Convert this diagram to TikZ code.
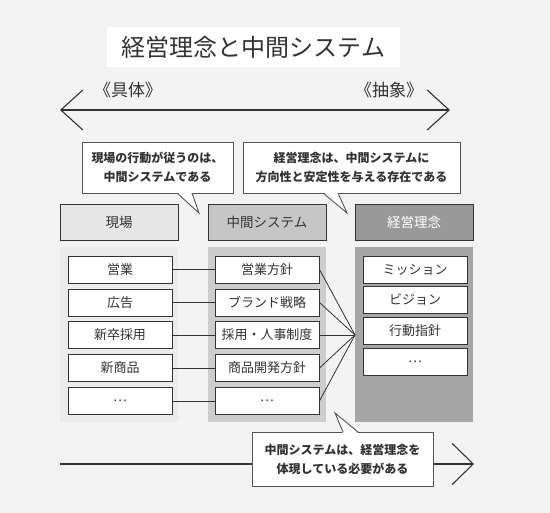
\documentclass[tikz,border=0pt]{standalone}
\usepackage{fontspec}
\setmainfont{Noto Sans CJK JP}
\usepackage{tikz}
\usetikzlibrary{arrows.meta,calc,positioning}
\definecolor{bggray}{HTML}{F3F3F3}
\definecolor{leftgray}{HTML}{EBEBEB}
\definecolor{midgray}{HTML}{CDCDCD}
\definecolor{darkgray}{HTML}{A6A6A6}
\definecolor{headlight}{HTML}{E6E6E6}
\definecolor{headmid}{HTML}{C6C6C6}
\definecolor{headdark}{HTML}{999999}
\definecolor{linegray}{HTML}{333333}
\definecolor{notegray}{HTML}{555555}

\begin{document}
\begin{tikzpicture}[x=1pt, y=-1pt,
  item/.style={draw=linegray, fill=white, line width=0.9pt, minimum width=104pt, minimum height=27pt,
    inner sep=0pt, text=linegray, font=\fontsize{13}{13}\selectfont},
  head/.style={draw=linegray, line width=0.9pt, minimum width=118pt, minimum height=36pt,
    inner sep=0pt, font=\fontsize{13.5}{13.5}\selectfont},
  panel/.style={minimum width=118pt, minimum height=175pt, inner sep=0pt},
  note/.style={draw=notegray, fill=white, line width=0.9pt, align=center, inner sep=0pt,
    text=linegray, font=\bfseries\fontsize{12}{19}\selectfont},
  link/.style={draw=linegray, line width=0.8pt},
  axis/.style={draw=linegray, line width=1.1pt}]

\useasboundingbox (0,0) rectangle (550,513);
\fill[bggray] (0,0) rectangle (550,513);

% タイトルと上の矢印
\node[fill=white, minimum width=293pt, minimum height=40pt, inner sep=0pt,
  text=linegray, font=\fontsize{24}{24}\selectfont] (title) at (253.5,47) {経営理念と中間システム};
\node[text=linegray, font=\fontsize{17}{17}\selectfont] (concrete) at (128,90) {《具体》};
\node[text=linegray, font=\fontsize{17}{17}\selectfont] (abstract) at (389,90) {《抽象》};
\coordinate (topL) at (60,110);
\coordinate (topR) at (450,110);
\draw[axis, {Straight Barb[length=22pt, width=40pt]}-{Straight Barb[length=22pt, width=40pt]}] (topL) -- (topR);

% 吹き出し（上）
\node[note, minimum width=151pt, minimum height=51pt] (note1) at (157.5,167.5)
  {現場の行動が従うのは、\\中間システムである};
\node[note, minimum width=217pt, minimum height=51pt] (note2) at (351.5,167.5)
  {経営理念は、中間システムに\\方向性と安定性を与える存在である};
\coordinate (tip1) at (199,213);
\coordinate (tip2) at (347,213);
\fill[white] (177,192) -- (tip1) -- (192,192) -- cycle;
\draw[notegray, line width=0.9pt] (177,193) -- (tip1) -- (192,193);
\fill[white] (323,192) -- (tip2) -- (338,192) -- cycle;
\draw[notegray, line width=0.9pt] (323,193) -- (tip2) -- (338,193);

% 見出し
\node[head, fill=headlight, text=linegray] (hField) at (119,222) {現場};
\node[head, fill=headmid, text=linegray] (hMid) at (267,222) {中間システム};
\node[head, fill=headdark, text=white] (hPhil) at (414,222) {経営理念};

% 列の背景
\node[panel, fill=leftgray] (pField) at (119,334.5) {};
\node[panel, fill=midgray] (pMid) at (267,334.5) {};
\node[panel, fill=darkgray] (pPhil) at (414,334.5) {};

% 現場
\node[item] (f1) at (120,269.5) {営業};
\node[item] (f2) at (120,302.5) {広告};
\node[item] (f3) at (120,335) {新卒採用};
\node[item] (f4) at (120,368) {新商品};
\node[item] (f5) at (120,401) {…};

% 中間システム
\node[item] (m1) at (267,269.5) {営業方針};
\node[item] (m2) at (267,302.5) {ブランド戦略};
\node[item] (m3) at (267,335) {採用・人事制度};
\node[item] (m4) at (267,368) {商品開発方針};
\node[item] (m5) at (267,401) {…};

% 経営理念
\node[item] (r1) at (415,269.5) {ミッション};
\node[item] (r2) at (415,300) {ビジョン};
\node[item] (r3) at (415,330.5) {行動指針};
\node[item] (r4) at (415,361.5) {…};

% つながり
\draw[link] (f1) -- (m1);
\draw[link] (f2) -- (m2);
\draw[link] (f3) -- (m3);
\draw[link] (f4) -- (m4);
\draw[link] (f5) -- (m5);
\coordinate (meet) at (355,335);
\draw[link] (m1.east) -- (meet);
\draw[link] (m2.east) -- (meet);
\draw[link] (m3.east) -- (meet);
\draw[link] (m4.east) -- (meet);
\draw[link] (m5.east) -- (meet);

% 下の矢印と吹き出し
\coordinate (botL) at (60,464);
\coordinate (botR) at (474,464);
\draw[axis, -{Straight Barb[length=21pt, width=41pt]}] (botL) -- (botR);
\node[note, minimum width=181pt, minimum height=54pt] (note3) at (342.5,459)
  {中間システムは、経営理念を\\体現している必要がある};
\coordinate (tip3) at (335,413);
\fill[white] (343,433) -- (tip3) -- (358,433) -- cycle;
\draw[notegray, line width=0.9pt] (343,432) -- (tip3) -- (358,432);

\end{tikzpicture}
\end{document}
